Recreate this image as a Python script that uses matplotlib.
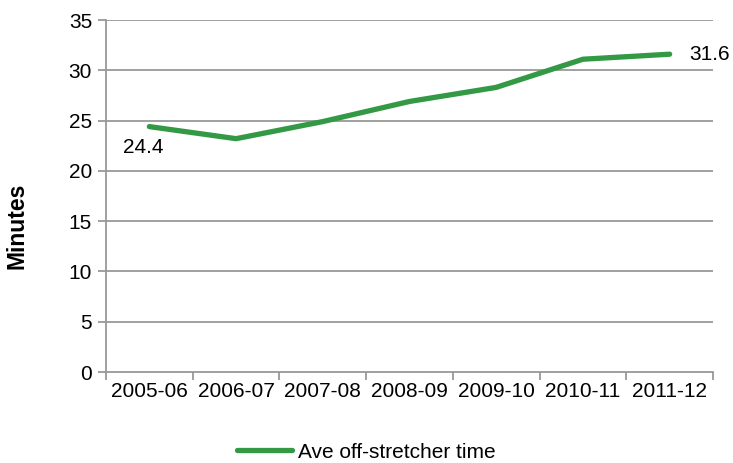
import matplotlib
matplotlib.use("Agg")
import matplotlib.pyplot as plt
from matplotlib.lines import Line2D

categories = ["2005-06", "2006-07", "2007-08", "2008-09", "2009-10", "2010-11", "2011-12"]
values = [24.4, 23.2, 24.9, 26.9, 28.3, 31.1, 31.6]
series_name = "Ave off-stretcher time"
y_ticks = [0, 5, 10, 15, 20, 25, 30, 35]

plt.rcParams['font.family'] = ['Liberation Sans', 'DejaVu Sans']
green = '#339944'
grid_c = '#989898'
fs = 15

fig = plt.figure(figsize=(7.33, 4.63), dpi=100)
ax = fig.add_axes([106/733, 1-372/463, (713-106)/733, (372-20)/463])

x = list(range(len(categories)))
ax.plot(x, values, color=green, lw=3.8, solid_capstyle='round', solid_joinstyle='round', zorder=3)

ax.set_xlim(-0.5, len(categories)-0.5)
ax.set_ylim(0, 35)
ax.set_yticks(y_ticks)
ax.set_yticklabels([str(t) for t in y_ticks], fontsize=fs)
for t in y_ticks[1:]:
    ax.axhline(t, color=grid_c, lw=1.3, zorder=1)

ax.set_xticks([i - 0.5 for i in range(len(categories)+1)])
ax.set_xticklabels([])
ax.set_xticks(x, minor=True)
ax.set_xticklabels(categories, minor=True, fontsize=fs)
ax.tick_params(axis='x', which='minor', length=0, pad=7)
ax.tick_params(axis='x', which='major', length=6, color=grid_c, width=1.3)
ax.tick_params(axis='y', length=6, color=grid_c, width=1.3, pad=4)

for s in ['top', 'right']:
    ax.spines[s].set_visible(False)
for s in ['left', 'bottom']:
    ax.spines[s].set_color(grid_c)
    ax.spines[s].set_linewidth(1.3)

ax.set_ylabel("Minutes", fontsize=16.5, fontweight='bold')
ax.yaxis.set_label_coords(-0.128, 0.415)

ax.annotate(f"{values[0]}", (x[0], values[0]), xytext=(-19, -15), textcoords='offset points',
            ha='left', va='center', fontsize=fs)
ax.annotate(f"{values[-1]}", (x[-1], values[-1]), xytext=(14, 0), textcoords='offset points',
            ha='left', va='center', fontsize=fs)

handle = Line2D([], [], color=green, lw=3.8, solid_capstyle='round')
fig.legend([handle], [series_name], loc='center', bbox_to_anchor=(0.5, 1-452/463),
           frameon=False, fontsize=fs, handlelength=2.6, handletextpad=0.3)

fig.savefig("out.png", dpi=100)
